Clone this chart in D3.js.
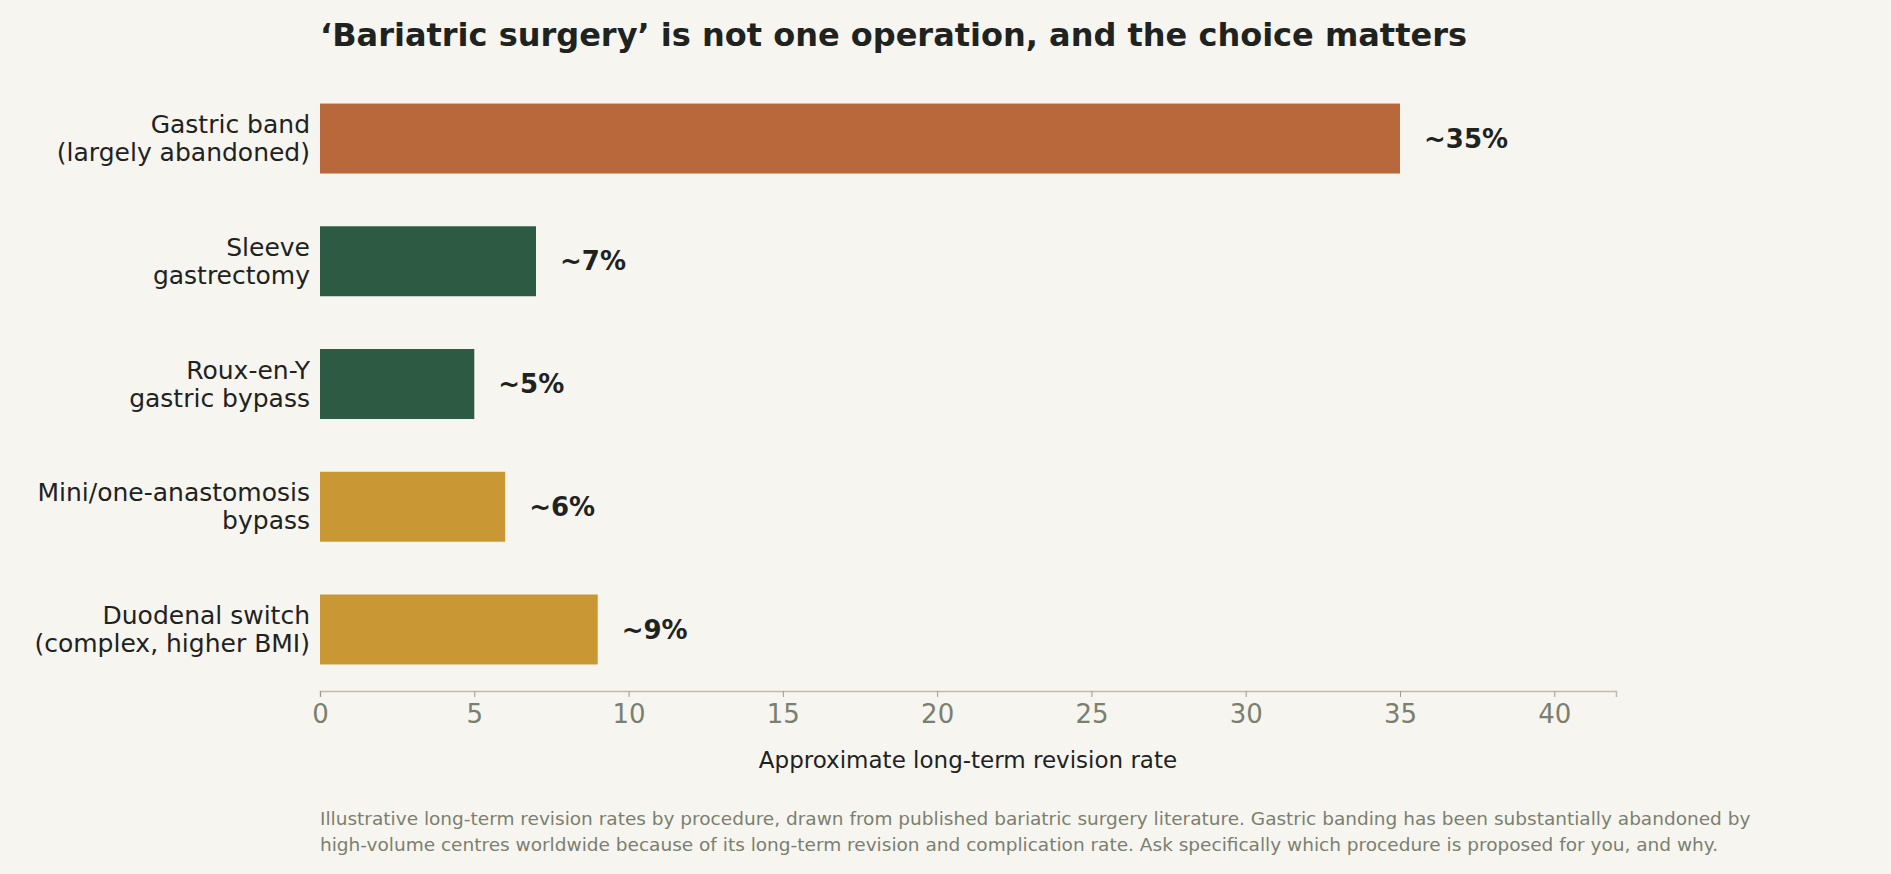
<!DOCTYPE html>
<html><head><meta charset="utf-8">
<script src="https://cdn.jsdelivr.net/npm/d3@7"></script>
<style>body{margin:0;background:#f7f5ef;}svg{display:block;font-family:"DejaVu Sans",sans-serif;}</style>
</head><body><div id="chart"></div>
<script>
const categories = [["Gastric band","(largely abandoned)"],["Sleeve","gastrectomy"],["Roux-en-Y","gastric bypass"],["Mini/one-anastomosis","bypass"],["Duodenal switch","(complex, higher BMI)"]];
const values = [35, 7, 5, 6, 9];
const valueLabels = ["~35%","~7%","~5%","~6%","~9%"];
const barColors = ["#b8683b","#2d5a43","#2d5a43","#c99734","#c99734"];
const xTicks = [0,5,10,15,20,25,30,35,40];
const footnote = ["Illustrative long-term revision rates by procedure, drawn from published bariatric surgery literature. Gastric banding has been substantially abandoned by",
  "high-volume centres worldwide because of its long-term revision and complication rate. Ask specifically which procedure is proposed for you, and why."];

const W = 1891, H = 874;
const svg = d3.select('#chart').append('svg').attr('width', W).attr('height', H);
svg.append('rect').attr('width', W).attr('height', H).attr('fill', '#f7f5ef');

const x = d3.scaleLinear().domain([0, 42]).range([320, 1616]);
const y = d3.scaleBand().domain(d3.range(values.length)).range([79, 689]).paddingInner(0.43).paddingOuter(0.2);

svg.append('text').attr('x', 320).attr('y', 46).attr('font-size', 32).attr('font-weight', 'bold')
  .attr('fill', '#1e231f').text('\u2018Bariatric surgery\u2019 is not one operation, and the choice matters');

svg.selectAll('rect.bar').data(values).join('rect').attr('class', 'bar')
  .attr('x', x(0)).attr('y', (d, i) => y(i)).attr('width', d => x(d) - x(0)).attr('height', y.bandwidth())
  .attr('fill', (d, i) => barColors[i]);

svg.selectAll('text.val').data(values).join('text').attr('class', 'val')
  .attr('x', d => x(d) + 24).attr('y', (d, i) => y(i) + y.bandwidth() / 2).attr('dy', '0.35em')
  .attr('font-size', 26).attr('font-weight', 'bold').attr('fill', '#1e231f')
  .text((d, i) => valueLabels[i]);

categories.forEach((c, i) => {
  const t = svg.append('text').attr('text-anchor', 'end').attr('font-size', 25).attr('fill', '#1e231f');
  c.forEach((line, j) => t.append('tspan').attr('x', 310)
    .attr('y', y(i) + y.bandwidth() / 2 + (j - 0.5) * 28).attr('dy', '0.35em').text(line));
});

const ax = svg.append('g').attr('transform', 'translate(0,691)')
  .call(d3.axisBottom(x).tickValues(xTicks).tickSize(6).tickPadding(8));
ax.select('.domain').attr('stroke', '#bdbcae').attr('stroke-width', 1.5);
ax.selectAll('.tick line').attr('stroke', '#9a9c90');
ax.selectAll('.tick text').attr('font-size', 26).attr('fill', '#7a8070').attr('font-family', '"DejaVu Sans",sans-serif');

svg.append('text').attr('x', (x(0) + x(42)) / 2).attr('y', 768).attr('text-anchor', 'middle')
  .attr('font-size', 23).attr('fill', '#1e231f').text('Approximate long-term revision rate');

footnote.forEach((l, i) => svg.append('text').attr('x', 320).attr('y', 825 + i * 26)
  .attr('font-size', 18.5).attr('fill', '#7a8070').text(l));
</script></body></html>
